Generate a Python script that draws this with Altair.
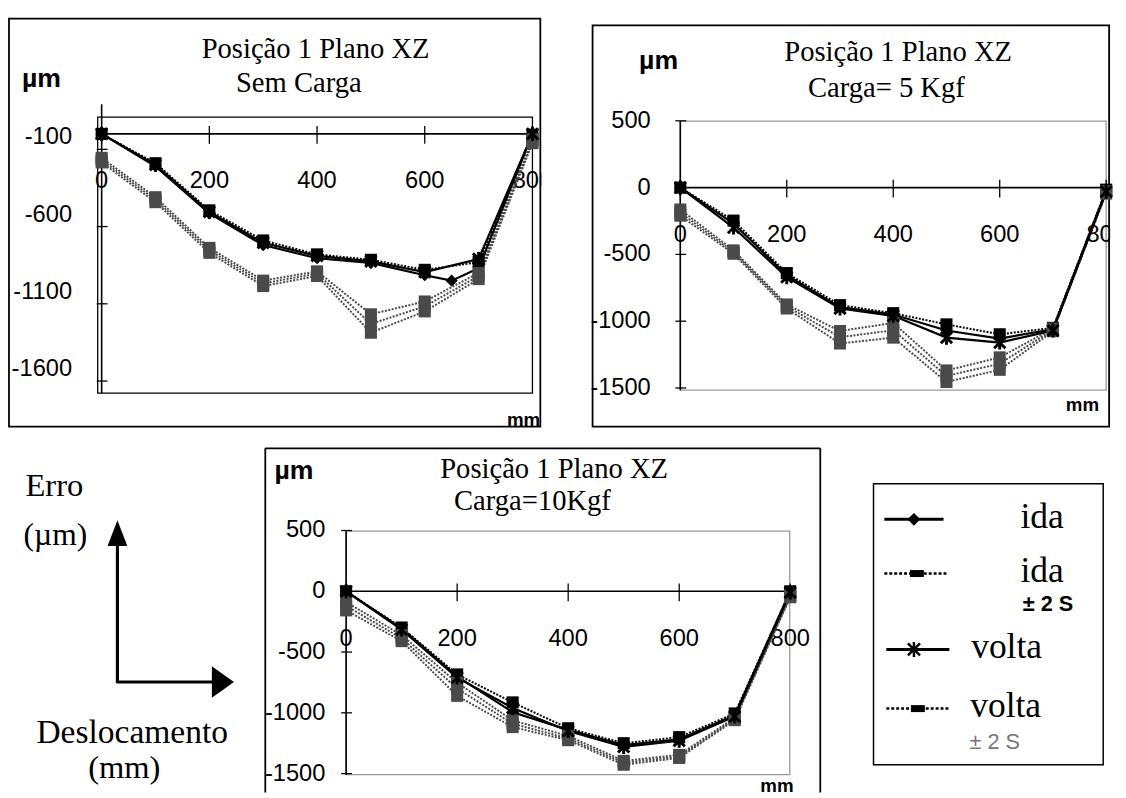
import altair as alt
import pandas as pd

# ---------------- data ----------------
X_POS = [0, 100, 200, 300, 400, 500, 600, 700, 800]
SERIES = ["ida", "volta", "ida +2S", "ida -2S", "volta +2S", "volta -2S"]

# Panel 1 : Sem Carga
P1_IDA_X = [0, 100, 200, 300, 400, 500, 600, 650, 700, 800]
P1_IDA = [0, -210, -515, -720, -805, -835, -915, -950, -870, 0]
P1_VOLTA = [0, -200, -505, -705, -790, -825, -895, -810, 0]
P1_IDA_SUP = [0, -190, -495, -690, -780, -815, -880, -830, -5]
P1_IDA_INF = [-155, -410, -738, -950, -890, -1168, -1085, -900, -35]
P1_VOLTA_SUP = [-170, -426, -753, -968, -904, -1230, -1117, -920, -50]
P1_VOLTA_INF = [-185, -442, -770, -985, -920, -1287, -1149, -940, -60]

# Panel 2 : Carga = 5 Kgf
P2_IDA = [0, -270, -655, -895, -950, -1070, -1130, -1060, -20]
P2_VOLTA = [0, -299, -670, -905, -960, -1123, -1160, -1070, -30]
P2_IDA_SUP = [0, -247, -640, -880, -940, -1024, -1098, -1050, -15]
P2_IDA_INF = [-164, -470, -875, -1074, -1013, -1369, -1271, -1055, -25]
P2_VOLTA_SUP = [-187, -483, -889, -1120, -1068, -1410, -1318, -1065, -35]
P2_VOLTA_INF = [-210, -495, -905, -1167, -1123, -1455, -1364, -1075, -45]

# Panel 3 : Carga = 10 Kgf
P3_IDA = [0, -305, -700, -995, -1140, -1265, -1217, -1020, 0]
P3_VOLTA = [0, -315, -710, -960, -1150, -1280, -1230, -1030, -10]
P3_IDA_SUP = [0, -298, -684, -914, -1127, -1250, -1200, -1005, 0]
P3_IDA_INF = [-89, -360, -752, -1062, -1190, -1395, -1346, -1040, -30]
P3_VOLTA_SUP = [-120, -387, -800, -1090, -1210, -1410, -1360, -1050, -40]
P3_VOLTA_INF = [-157, -410, -860, -1117, -1225, -1427, -1371, -1060, -49]

X_TICKS = [0, 200, 400, 600, 800]
X_TICK_LABELS = ["0", "200", "400", "600", "800"]
P1_Y_TICKS = [-100, -600, -1100, -1600]
P1_Y_LABELS = ["-100", "-600", "-1100", "-1600"]
P23_Y_TICKS = [500, 0, -500, -1000, -1500]
P23_Y_LABELS = ["500", "0", "-500", "-1000", "-1500"]

TITLE = "Posição 1 Plano XZ"
SUBTITLES = ["Sem Carga", "Carga= 5 Kgf", "Carga=10Kgf"]
UNIT_Y = "µm"
UNIT_X = "mm"
LEGEND_TEXT = ["ida", "ida", "volta", "volta"]
LEGEND_SUB = "± 2 S"
ARROW_TEXT = ["Erro", "(µm)", "Deslocamento", "(mm)"]

# ---------------- styles ----------------
SERIF = "Liberation Serif, Times New Roman, serif"
SANS = "Liberation Sans, Arial, sans-serif"
TICK_SIZE = 24
ASTER = "M-1,-1L1,1M1,-1L-1,1M0,-1.25L0,1.25"
COLORS = ["#000000", "#000000", "#000000", "#4a4a4a", "#4a4a4a", "#4a4a4a"]
SHAPES = ["diamond", ASTER, "square", "square", "square", "square"]


def make_df(xs_list, ys_list):
    rows = []
    for name, xs, ys in zip(SERIES, xs_list, ys_list):
        for a, b in zip(xs, ys):
            rows.append({"s": name, "x": a, "y": b})
    return pd.DataFrame(rows)


ONE = pd.DataFrame({"o": [0]})


def txt(s, x, y, size, font, weight="normal", color="black", align="center"):
    return alt.Chart(pd.DataFrame({"t": [s]})).mark_text(
        font=font, fontSize=size, fontWeight=weight, color=color,
        align=align, baseline="middle", clip=True
    ).encode(x=alt.value(x), y=alt.value(y), text="t:N")


def rect_px(x1, x2, y1, y2, color="black", width=1.5):
    return alt.Chart(ONE).mark_rect(fillOpacity=0, stroke=color, strokeWidth=width).encode(
        x=alt.value(x1), x2=alt.value(x2), y=alt.value(y1), y2=alt.value(y2))


def hrule_px(x1, x2, y, color="black", width=1.5, dash=None):
    kw = {} if dash is None else {"strokeDash": dash}
    return alt.Chart(ONE).mark_rule(color=color, strokeWidth=width, **kw).encode(
        x=alt.value(x1), x2=alt.value(x2), y=alt.value(y))


def vrule_px(x, y1, y2, color="black", width=1.5):
    return alt.Chart(ONE).mark_rule(color=color, strokeWidth=width).encode(
        x=alt.value(x), y=alt.value(y1), y2=alt.value(y2))


def sym_px(shape, x, y, size, filled=True, width=2.0, color="black"):
    return alt.Chart(ONE).mark_point(shape=shape, size=size, filled=filled, opacity=1,
                                     color=color, strokeWidth=width).encode(
        x=alt.value(x), y=alt.value(y))


def panel(df, W, H, x0, kx, y0, ky, yticks, ylabels, ylab_right, ylab_dy,
          box, box_color, yaxis_top, subtitle, pos, frame):
    xs = alt.Scale(domain=[-x0 / kx, (W - x0) / kx], nice=False, zero=False)
    ys = alt.Scale(domain=[-(H - y0) / ky, y0 / ky], nice=False, zero=False)
    X = alt.X("x:Q", scale=xs, axis=None)
    Y = alt.Y("y:Q", scale=ys, axis=None)
    layers = list(frame)
    bx1, bx2, by1, by2 = box
    layers.append(rect_px(bx1, bx2, by1, by2, color=box_color, width=1.3))
    # axes
    layers.append(alt.Chart(ONE).mark_rule(color="black", strokeWidth=1.6).encode(
        x=alt.value(bx1), x2=alt.value(bx2), y=alt.Y(datum=0, scale=ys, axis=None)))
    layers.append(alt.Chart(ONE).mark_rule(color="black", strokeWidth=1.6).encode(
        x=alt.X(datum=0, scale=xs, axis=None), y=alt.value(yaxis_top), y2=alt.value(by2)))
    xt = pd.DataFrame({"v": X_TICKS, "lab": X_TICK_LABELS})
    layers.append(alt.Chart(xt).mark_rule(color="black", strokeWidth=1.3).encode(
        x=alt.X("v:Q", scale=xs, axis=None), y=alt.value(y0 - 8), y2=alt.value(y0 + 10)))
    layers.append(alt.Chart(xt).mark_text(font=SANS, fontSize=TICK_SIZE, baseline="middle",
                                          clip=True).encode(
        x=alt.X("v:Q", scale=xs, axis=None), y=alt.value(y0 + 48), text="lab:N"))
    yt = pd.DataFrame({"v": yticks, "lab": ylabels})
    layers.append(alt.Chart(yt).mark_rule(color="black", strokeWidth=1.3).encode(
        y=alt.Y("v:Q", scale=ys, axis=None), x=alt.value(x0 - 5), x2=alt.value(x0 + 6)))
    layers.append(alt.Chart(yt).mark_text(font=SANS, fontSize=TICK_SIZE, baseline="middle",
                                          align="right", dy=ylab_dy, clip=True).encode(
        y=alt.Y("v:Q", scale=ys, axis=None), x=alt.value(ylab_right), text="lab:N"))
    # data
    cscale = alt.Scale(domain=SERIES, range=COLORS)
    solid = ["ida", "volta"]
    bands = SERIES[2:]
    base = alt.Chart(df)
    layers.append(base.transform_filter(alt.FieldOneOfPredicate(field="s", oneOf=bands))
                  .mark_line(strokeWidth=2.0, strokeDash=[2, 1.5]).encode(
        x=X, y=Y, detail="s:N", color=alt.Color("s:N", scale=cscale, legend=None)))
    layers.append(base.transform_filter(alt.FieldOneOfPredicate(field="s", oneOf=solid))
                  .mark_line(strokeWidth=2.2).encode(
        x=X, y=Y, detail="s:N", color=alt.Color("s:N", scale=cscale, legend=None)))
    filled = ["ida"] + bands
    layers.append(base.transform_filter(alt.FieldOneOfPredicate(field="s", oneOf=filled))
                  .mark_point(filled=True, opacity=1, size=150).encode(
        x=X, y=Y,
        color=alt.Color("s:N", scale=cscale, legend=None),
        shape=alt.Shape("s:N", scale=alt.Scale(domain=SERIES, range=SHAPES), legend=None)))
    layers.append(base.transform_filter(alt.FieldEqualPredicate(field="s", equal="volta"))
                  .mark_point(shape=ASTER, filled=False, opacity=1, size=130, strokeWidth=3,
                              color="black").encode(x=X, y=Y))
    # texts
    (mx, my), (t1x, t1y), (t2x, t2y), (ux, uy) = pos
    layers.append(txt(UNIT_Y, mx, my, 27, SANS, weight="bold"))
    layers.append(txt(TITLE, t1x, t1y, 29, SERIF))
    layers.append(txt(subtitle, t2x, t2y, 29, SERIF))
    layers.append(txt(UNIT_X, ux, uy, 19, SANS, weight="bold"))
    return alt.layer(*layers).properties(width=W, height=H)


# Panel 1
df1 = make_df([P1_IDA_X, X_POS, X_POS, X_POS, X_POS, X_POS],
              [P1_IDA, P1_VOLTA, P1_IDA_SUP, P1_IDA_INF, P1_VOLTA_SUP, P1_VOLTA_INF])
W1, H1 = 541, 416
p1 = panel(df1, W1, H1, 95, 437 / 800, 118, 0.1567, P1_Y_TICKS, P1_Y_LABELS, 65, -12,
           (91, 532, 101, 381), "black", 88, SUBTITLES[0],
           [(34, 62), (312, 32), (295, 67), (523, 408)],
           [rect_px(1, W1 - 1, 1, H1 - 1, width=1.8)])

# Panel 2
df2 = make_df([X_POS] * 6,
              [P2_IDA, P2_VOLTA, P2_IDA_SUP, P2_IDA_INF, P2_VOLTA_SUP, P2_VOLTA_INF])
W2, H2 = 526, 416
p2 = panel(df2, W2, H2, 90, 0.54, 172.5, 0.1355, P23_Y_TICKS, P23_Y_LABELS, 60, 0,
           (90, 522, 105, 378), "#999999", 105, SUBTITLES[1],
           [(68, 44), (311, 35), (299, 72), (498, 393)],
           [rect_px(1, W2 - 1, 8, H2 - 1, width=1.8)])

# Panel 3
df3 = make_df([X_POS] * 6,
              [P3_IDA, P3_VOLTA, P3_IDA_SUP, P3_IDA_INF, P3_VOLTA_SUP, P3_VOLTA_INF])
W3, H3 = 565, 350
p3 = panel(df3, W3, H3, 83, 450.5 / 800, 146, 0.1233, P23_Y_TICKS, P23_Y_LABELS, 62, 0,
           (83, 533, 85, 332), "#999999", 85, SUBTITLES[2],
           [(30, 24), (294, 22), (272, 55), (520, 344)],
           [hrule_px(1, W3 - 1, 1, width=1.8), vrule_px(1, 1, H3, width=1.8),
            vrule_px(W3 - 1, 1, H3, width=1.8)])

# Arrow explanation panel
WA, HA = 252, 350
arrows = alt.layer(
    txt(ARROW_TEXT[0], 47, 39, 33, SERIF),
    txt(ARROW_TEXT[1], 48, 89, 32, SERIF),
    vrule_px(111, 98, 239, width=3.2),
    hrule_px(110, 210, 238, width=3.2),
    sym_px("M0,-1L0.77,1L-0.77,1Z", 111, 87, 676),
    sym_px("M0.7,0L-0.7,1L-0.7,-1Z", 218, 238, 1024),
    txt(ARROW_TEXT[2], 126, 290, 34, SERIF),
    txt(ARROW_TEXT[3], 118, 325, 33, SERIF),
).properties(width=WA, height=HA)

# Legend panel
WL, HL = 235, 350
SMALL_RECT = "M-1,-0.5L1,-0.5L1,0.5L-1,0.5Z"
legend = alt.layer(
    rect_px(1, WL - 1, 37, 322, width=1.5),
    hrule_px(12, 72, 73, width=3),
    sym_px("diamond", 42, 73, 170),
    txt(LEGEND_TEXT[0], 172, 71, 36, SERIF),
    hrule_px(12, 76, 128, width=2.5, dash=[3, 2]),
    sym_px(SMALL_RECT, 45, 128, 200),
    txt(LEGEND_TEXT[1], 172, 126, 36, SERIF),
    txt(LEGEND_SUB, 178, 159, 22, SANS, weight="bold"),
    hrule_px(14, 78, 205, width=3),
    sym_px(ASTER, 42, 205, 150, filled=False, width=2.5),
    txt(LEGEND_TEXT[2], 136, 203, 36, SERIF),
    hrule_px(14, 78, 265, width=2.5, dash=[3, 2]),
    sym_px(SMALL_RECT, 46, 265, 200),
    txt(LEGEND_TEXT[3], 135, 263, 36, SERIF),
    txt(LEGEND_SUB, 124, 299, 22, SANS, color="#777777"),
).properties(width=WL, height=HL)

top_row = alt.hconcat(p1, p2, spacing=48)
bottom_row = alt.hconcat(alt.hconcat(arrows, p3, spacing=8), legend, spacing=52)

chart = alt.vconcat(top_row, bottom_row, spacing=20).properties(
    padding={"left": 0, "top": 4, "right": 0, "bottom": 0},
    background="white",
).configure_view(stroke=None)

chart.save("out.html", embed_options={"renderer": "svg", "actions": False})
